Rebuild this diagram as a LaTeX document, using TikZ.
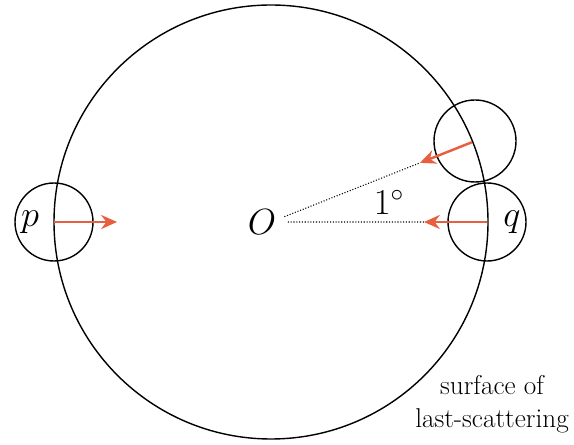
\documentclass[tikz,border=0pt]{standalone}
\usepackage{amsmath}
\usepackage{tikz}
\usetikzlibrary{arrows.meta, calc}
\definecolor{lsred}{RGB}{232, 94, 64}

\tikzset{
	photon/.style={lsred,line width=1.4pt,-{Stealth[length=9pt,width=8pt]}},
	sight/.style={densely dotted,line width=0.6pt},
	bigmath/.style={font=\fontsize{21}{24}\selectfont},
}

\begin{document}
\begin{tikzpicture}[x=0.02cm,y=-0.02cm]
	\useasboundingbox (0,0) rectangle (574,445);
	% centre and surface of last scattering
	\coordinate (O) at (271,222);
	\draw[thick] (O) circle[radius=217];
	% patches
	\coordinate (p) at (54,222);
	\coordinate (q) at (487,222);
	\coordinate (r) at (475,141);
	\draw[thick] (p) circle[radius=39];
	\draw[thick] (q) circle[radius=39];
	\draw[thick] (r) circle[radius=41];
	% arrow ends
	\coordinate (pend) at (117,222);
	\coordinate (qend) at (424,222);
	\coordinate (rend) at ($(r)!0.27!(O)$);
	\draw[sight] ($(O)!0.09!(rend)$) -- (rend);
	\draw[sight] ($(O)!0.11!(qend)$) -- (qend);
	\draw[photon] (p) -- (pend);
	\draw[photon] (q) -- (qend);
	\draw[photon] ($(r)!0.015!(O)$) -- (rend);
	% labels
	\node[bigmath] (Olabel) at (262,222) {$O$};
	\node[bigmath] (plabel) at (30,222) {$p$};
	\node[bigmath] (qlabel) at (512,222) {$q$};
	\node[bigmath] (angle) at (389,202) {$1^\circ$};
	\node[font=\fontsize{15.5}{19}\selectfont,align=center] (lss) at (492,404) {surface of\\last-scattering};
\end{tikzpicture}
\end{document}
